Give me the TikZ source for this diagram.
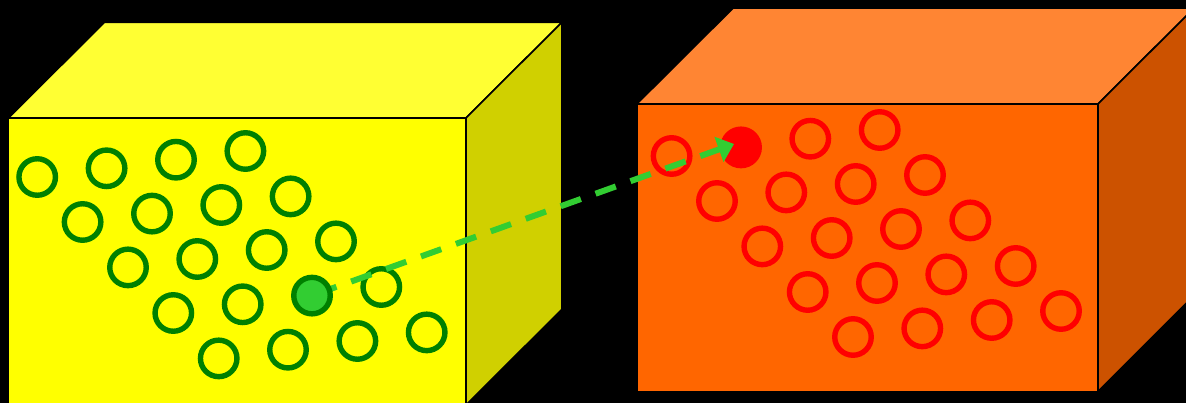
\documentclass[tikz,border=0pt]{standalone}
\usetikzlibrary{arrows.meta}
\definecolor{frontY}{HTML}{FFFF00}
\definecolor{topY}{HTML}{FFFF33}
\definecolor{sideY}{HTML}{D0D000}
\definecolor{frontO}{HTML}{FF6600}
\definecolor{topO}{HTML}{FF8533}
\definecolor{sideO}{HTML}{CC5200}
\definecolor{ringG}{HTML}{008000}
\definecolor{lime}{HTML}{32CD32}
\tikzset{
  face/.style={draw=black,line width=1.6pt,line join=miter},
  ring/.style={circle,inner sep=0pt,minimum size=36.5pt,line width=5.4pt},
  greenring/.style={ring,draw=ringG},
  redring/.style={ring,draw=red},
  link/.style={draw=lime,line width=6pt,dash pattern=on 21.5pt off 15.6pt,dash phase=32.6pt,
    -{Triangle[length=16pt,width=26pt]}}
}
\begin{document}
\begin{tikzpicture}[x=1pt,y=-1pt]
\useasboundingbox (0,0) rectangle (1186,403);
\clip (0,0) rectangle (1186,403);
\fill[black] (0,0) rectangle (1186,403);
% left box
\filldraw[face,fill=topY] (8.4,118) -- (104.4,22.4) -- (561.8,22.4) -- (466,118) -- cycle;
\filldraw[face,fill=sideY] (466,118) -- (561.8,22.4) -- (561.8,309.4) -- (466,405) -- cycle;
\filldraw[face,fill=frontY] (8.4,118) rectangle (466,406);
% right box
\filldraw[face,fill=topO] (636.8,104) -- (733,8.2) -- (1194,8.2) -- (1098,104) -- cycle;
\filldraw[face,fill=sideO] (1098,104) -- (1194,8.2) -- (1194,295.4) -- (1098,391.4) -- cycle;
\filldraw[face,fill=frontO] (636.8,104) rectangle (1098,391.4);
% green rings
\foreach \n/\x/\y in {g1/37.2/177,g2/106.6/168.3,g3/176/159.7,g4/245.4/151,
  g5/82.6/222,g6/152/213.6,g7/221.3/205,g8/290.6/196.4,
  g9/128/267.4,g10/197.3/259,g11/266.7/250,g12/336/241.4,
  g13/173.3/313,g14/242.7/304.3,g16/381.3/287,
  g17/218.7/358.4,g18/288/349.7,g19/357.4/341,g20/426.7/332.4}
  \node[greenring] (\n) at (\x,\y) {};
% red rings
\foreach \n/\x/\y in {r1/671.6/156,r3/810.3/138.7,r4/879.7/130,
  r5/717/201,r6/786.3/192.4,r7/855.7/184,r8/925/175,
  r9/762.3/246.4,r10/831.7/238,r11/901/229,r12/970.3/220.4,
  r13/807.7/292,r14/877/283,r15/946.3/274.4,r16/1015.7/266,
  r17/853/337,r18/922.3/328.4,r19/991.7/320,r20/1061/311}
  \node[redring] (\n) at (\x,\y) {};
% filled target, then the source on top of the connector
\node[redring,fill=red] (target) at (741,147.4) {};
\coordinate (tip) at (734,144);
\coordinate (start) at (312,295.6);
\draw[link] (start) -- (tip);
\node[greenring,fill=lime] (source) at (start) {};
\end{tikzpicture}
\end{document}
